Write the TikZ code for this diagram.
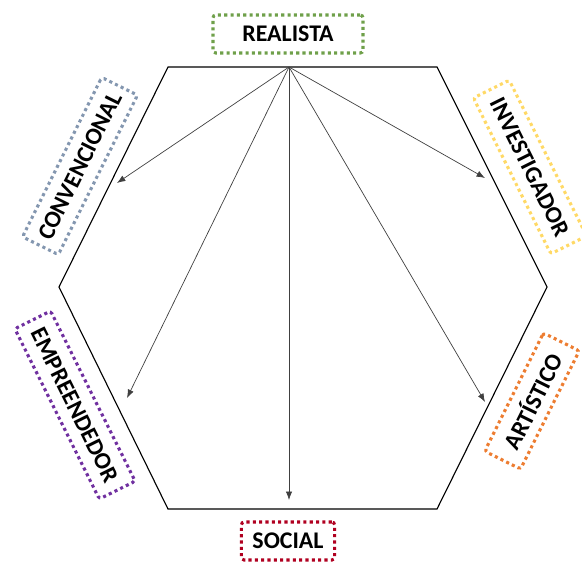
\documentclass[tikz,border=0pt]{standalone}
\usepackage{fontspec}
\setmainfont{Carlito}
\usepackage{tikz}
\usepackage{xcolor}
\usetikzlibrary{arrows.meta, positioning}

\definecolor{realgreen}{HTML}{6FA04A}
\definecolor{convgray}{HTML}{8497B0}
\definecolor{invyellow}{HTML}{FFD966}
\definecolor{empurple}{HTML}{7030A0}
\definecolor{artorange}{HTML}{ED7D31}
\definecolor{socred}{HTML}{B00020}

\begin{document}
\begin{tikzpicture}[x=0.025cm, y=0.025cm,
    typebox/.style={draw, line width=2.2pt, dash pattern=on 2.2pt off 2.3pt, rounded corners=2pt,
        font=\fontsize{17}{19}\selectfont\bfseries, minimum height=1cm, inner xsep=4pt},
    link/.style={-{Latex[length=6pt, width=4.5pt]}, black!75, line width=0.5pt}]
    \useasboundingbox (0,0) rectangle (582,562);

    % Hexagon
    \draw[line width=0.8pt] (168,495) -- (437,495) -- (547,275) -- (437,53) -- (168,53) -- (59,275) -- cycle;

    % Labels
    \node[typebox, draw=realgreen, minimum width=3.75cm, minimum height=0.95cm] (realista) at (288,528) {REALISTA};
    \node[typebox, draw=socred, minimum width=2.33cm, minimum height=0.95cm] (social) at (288,21) {SOCIAL};
    \node[typebox, draw=convgray, minimum width=4.45cm, rotate=63.6] (convencional) at (80,396) {CONVENCIONAL};
    \node[typebox, draw=invyellow, minimum width=4.35cm, rotate=-63.6] (investigador) at (530,395) {INVESTIGADOR};
    \node[typebox, draw=empurple, minimum width=4.75cm, rotate=-63.6] (empreendedor) at (75,157) {EMPREENDEDOR};
    \node[typebox, draw=artorange, minimum width=3.3cm, rotate=63.6] (artistico) at (532,161) {ARTÍSTICO};

    % Arrows from the top
    \coordinate (apex) at (289,495);
    \coordinate (toconv) at (117,379);
    \coordinate (toemp) at (127,164);
    \coordinate (tosoc) at (289,62);
    \coordinate (toart) at (485,160);
    \coordinate (toinv) at (485,384);
    \draw[link] (apex) -- (toconv);
    \draw[link] (apex) -- (toemp);
    \draw[link] (apex) -- (tosoc);
    \draw[link] (apex) -- (toart);
    \draw[link] (apex) -- (toinv);
\end{tikzpicture}
\end{document}
